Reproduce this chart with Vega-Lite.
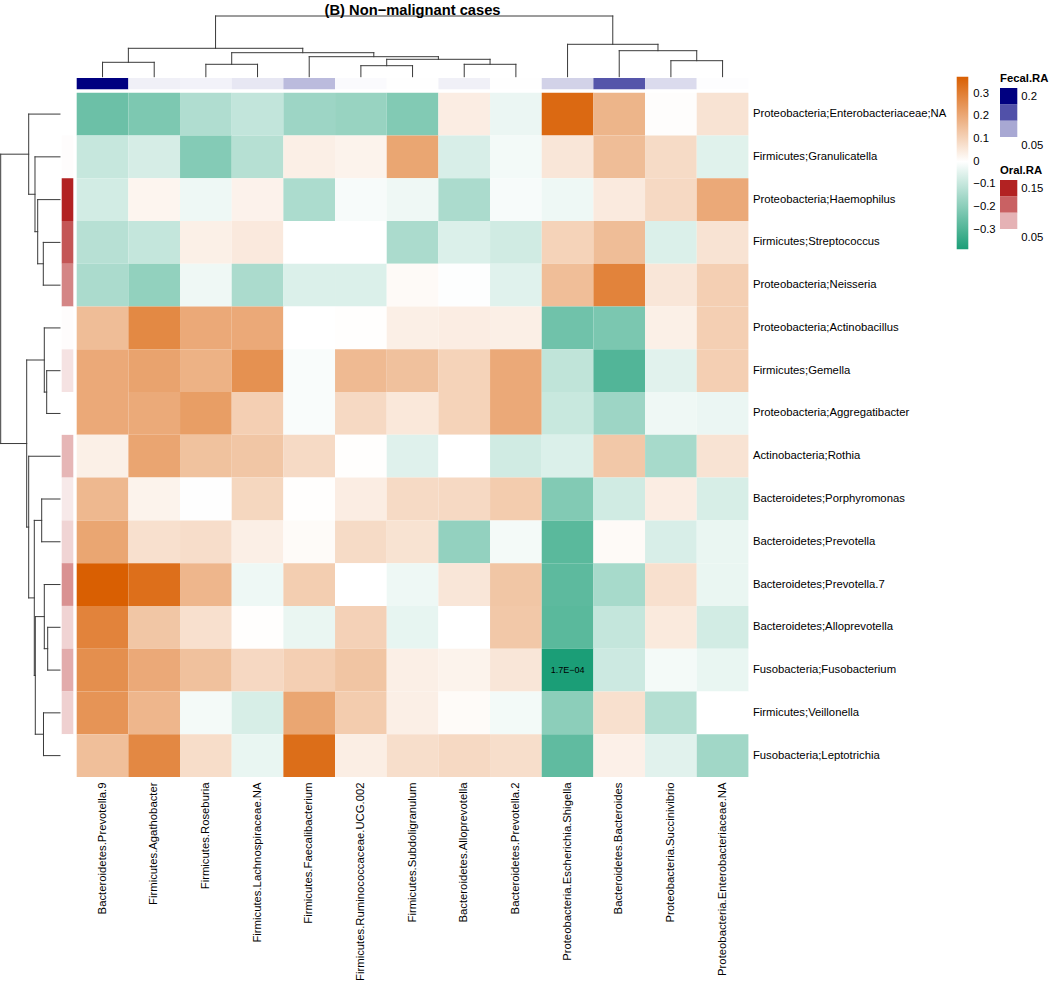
{
 "$schema": "https://vega.github.io/schema/vega-lite/v6.json",
 "autosize": {"type": "none"},
 "width": 671.7,
 "height": 684.3,
 "padding": {"left": 76.7, "top": 92.7, "right": 301.6, "bottom": 205},
 "background": "white",
 "config": {
  "font": "Liberation Sans",
  "view": {"stroke": null},
  "axis": {"labelFont": "Liberation Sans", "labelFontSize": 11.3, "labelColor": "#000000"},
  "legend": {"labelFont": "Liberation Sans", "titleFont": "Liberation Sans", "labelFontSize": 11.3, "labelColor": "#000000", "titleFontSize": 11.3, "titleColor": "#000000", "titleFontWeight": "bold"}
 },
 "title": {"text": "(B) Non\u2212malignant cases", "frame": "group", "anchor": "middle", "fontSize": 14.7, "fontWeight": "bold", "color": "#000000", "font": "Liberation Sans", "offset": -2},
 "datasets": {
  "cells": [
   {"row": "Proteobacteria;Enterobacteriaceae;NA", "col": "Bacteroidetes.Prevotella.9", "r": -0.249},
   {"row": "Proteobacteria;Enterobacteriaceae;NA", "col": "Firmicutes.Agathobacter", "r": -0.22},
   {"row": "Proteobacteria;Enterobacteriaceae;NA", "col": "Firmicutes.Roseburia", "r": -0.134},
   {"row": "Proteobacteria;Enterobacteriaceae;NA", "col": "Firmicutes.Lachnospiraceae.NA", "r": -0.103},
   {"row": "Proteobacteria;Enterobacteriaceae;NA", "col": "Firmicutes.Faecalibacterium", "r": -0.166},
   {"row": "Proteobacteria;Enterobacteriaceae;NA", "col": "Firmicutes.Ruminococcaceae.UCG.002", "r": -0.175},
   {"row": "Proteobacteria;Enterobacteriaceae;NA", "col": "Firmicutes.Subdoligranulum", "r": -0.212},
   {"row": "Proteobacteria;Enterobacteriaceae;NA", "col": "Bacteroidetes.Alloprevotella", "r": 0.042},
   {"row": "Proteobacteria;Enterobacteriaceae;NA", "col": "Bacteroidetes.Prevotella.2", "r": -0.034},
   {"row": "Proteobacteria;Enterobacteriaceae;NA", "col": "Proteobacteria.Escherichia.Shigella", "r": 0.35},
   {"row": "Proteobacteria;Enterobacteriaceae;NA", "col": "Bacteroidetes.Bacteroides", "r": 0.173},
   {"row": "Proteobacteria;Enterobacteriaceae;NA", "col": "Proteobacteria.Succinivibrio", "r": 0.005},
   {"row": "Proteobacteria;Enterobacteriaceae;NA", "col": "Proteobacteria.Enterobacteriaceae.NA", "r": 0.065},

   {"row": "Firmicutes;Granulicatella", "col": "Bacteroidetes.Prevotella.9", "r": -0.097},
   {"row": "Firmicutes;Granulicatella", "col": "Firmicutes.Agathobacter", "r": -0.07},
   {"row": "Firmicutes;Granulicatella", "col": "Firmicutes.Roseburia", "r": -0.208},
   {"row": "Firmicutes;Granulicatella", "col": "Firmicutes.Lachnospiraceae.NA", "r": -0.124},
   {"row": "Firmicutes;Granulicatella", "col": "Firmicutes.Faecalibacterium", "r": 0.037},
   {"row": "Firmicutes;Granulicatella", "col": "Firmicutes.Ruminococcaceae.UCG.002", "r": 0.028},
   {"row": "Firmicutes;Granulicatella", "col": "Firmicutes.Subdoligranulum", "r": 0.208},
   {"row": "Firmicutes;Granulicatella", "col": "Bacteroidetes.Alloprevotella", "r": -0.066},
   {"row": "Firmicutes;Granulicatella", "col": "Bacteroidetes.Prevotella.2", "r": -0.02},
   {"row": "Firmicutes;Granulicatella", "col": "Proteobacteria.Escherichia.Shigella", "r": 0.058},
   {"row": "Firmicutes;Granulicatella", "col": "Bacteroidetes.Bacteroides", "r": 0.154},
   {"row": "Firmicutes;Granulicatella", "col": "Proteobacteria.Succinivibrio", "r": 0.084},
   {"row": "Firmicutes;Granulicatella", "col": "Proteobacteria.Enterobacteriaceae.NA", "r": -0.053},

   {"row": "Proteobacteria;Haemophilus", "col": "Bacteroidetes.Prevotella.9", "r": -0.076},
   {"row": "Proteobacteria;Haemophilus", "col": "Firmicutes.Agathobacter", "r": 0.023},
   {"row": "Proteobacteria;Haemophilus", "col": "Firmicutes.Roseburia", "r": -0.029},
   {"row": "Proteobacteria;Haemophilus", "col": "Firmicutes.Lachnospiraceae.NA", "r": 0.03},
   {"row": "Proteobacteria;Haemophilus", "col": "Firmicutes.Faecalibacterium", "r": -0.14},
   {"row": "Proteobacteria;Haemophilus", "col": "Firmicutes.Ruminococcaceae.UCG.002", "r": -0.014},
   {"row": "Proteobacteria;Haemophilus", "col": "Firmicutes.Subdoligranulum", "r": -0.027},
   {"row": "Proteobacteria;Haemophilus", "col": "Bacteroidetes.Alloprevotella", "r": -0.142},
   {"row": "Proteobacteria;Haemophilus", "col": "Bacteroidetes.Prevotella.2", "r": -0.014},
   {"row": "Proteobacteria;Haemophilus", "col": "Proteobacteria.Escherichia.Shigella", "r": -0.029},
   {"row": "Proteobacteria;Haemophilus", "col": "Bacteroidetes.Bacteroides", "r": 0.049},
   {"row": "Proteobacteria;Haemophilus", "col": "Proteobacteria.Succinivibrio", "r": 0.089},
   {"row": "Proteobacteria;Haemophilus", "col": "Proteobacteria.Enterobacteriaceae.NA", "r": 0.2},

   {"row": "Firmicutes;Streptococcus", "col": "Bacteroidetes.Prevotella.9", "r": -0.122},
   {"row": "Firmicutes;Streptococcus", "col": "Firmicutes.Agathobacter", "r": -0.1},
   {"row": "Firmicutes;Streptococcus", "col": "Firmicutes.Roseburia", "r": 0.035},
   {"row": "Firmicutes;Streptococcus", "col": "Firmicutes.Lachnospiraceae.NA", "r": 0.051},
   {"row": "Firmicutes;Streptococcus", "col": "Firmicutes.Faecalibacterium", "r": 0.0},
   {"row": "Firmicutes;Streptococcus", "col": "Firmicutes.Ruminococcaceae.UCG.002", "r": 0.0},
   {"row": "Firmicutes;Streptococcus", "col": "Firmicutes.Subdoligranulum", "r": -0.142},
   {"row": "Firmicutes;Streptococcus", "col": "Bacteroidetes.Alloprevotella", "r": -0.061},
   {"row": "Firmicutes;Streptococcus", "col": "Bacteroidetes.Prevotella.2", "r": -0.08},
   {"row": "Firmicutes;Streptococcus", "col": "Proteobacteria.Escherichia.Shigella", "r": 0.103},
   {"row": "Firmicutes;Streptococcus", "col": "Bacteroidetes.Bacteroides", "r": 0.154},
   {"row": "Firmicutes;Streptococcus", "col": "Proteobacteria.Succinivibrio", "r": -0.061},
   {"row": "Firmicutes;Streptococcus", "col": "Proteobacteria.Enterobacteriaceae.NA", "r": 0.065},

   {"row": "Proteobacteria;Neisseria", "col": "Bacteroidetes.Prevotella.9", "r": -0.143},
   {"row": "Proteobacteria;Neisseria", "col": "Firmicutes.Agathobacter", "r": -0.185},
   {"row": "Proteobacteria;Neisseria", "col": "Firmicutes.Roseburia", "r": -0.027},
   {"row": "Proteobacteria;Neisseria", "col": "Firmicutes.Lachnospiraceae.NA", "r": -0.142},
   {"row": "Proteobacteria;Neisseria", "col": "Firmicutes.Faecalibacterium", "r": -0.061},
   {"row": "Proteobacteria;Neisseria", "col": "Firmicutes.Ruminococcaceae.UCG.002", "r": -0.061},
   {"row": "Proteobacteria;Neisseria", "col": "Firmicutes.Subdoligranulum", "r": 0.012},
   {"row": "Proteobacteria;Neisseria", "col": "Bacteroidetes.Alloprevotella", "r": -0.003},
   {"row": "Proteobacteria;Neisseria", "col": "Bacteroidetes.Prevotella.2", "r": -0.052},
   {"row": "Proteobacteria;Neisseria", "col": "Proteobacteria.Escherichia.Shigella", "r": 0.152},
   {"row": "Proteobacteria;Neisseria", "col": "Bacteroidetes.Bacteroides", "r": 0.29},
   {"row": "Proteobacteria;Neisseria", "col": "Proteobacteria.Succinivibrio", "r": 0.058},
   {"row": "Proteobacteria;Neisseria", "col": "Proteobacteria.Enterobacteriaceae.NA", "r": 0.112},

   {"row": "Proteobacteria;Actinobacillus", "col": "Bacteroidetes.Prevotella.9", "r": 0.154},
   {"row": "Proteobacteria;Actinobacillus", "col": "Firmicutes.Agathobacter", "r": 0.276},
   {"row": "Proteobacteria;Actinobacillus", "col": "Firmicutes.Roseburia", "r": 0.2},
   {"row": "Proteobacteria;Actinobacillus", "col": "Firmicutes.Lachnospiraceae.NA", "r": 0.2},
   {"row": "Proteobacteria;Actinobacillus", "col": "Firmicutes.Faecalibacterium", "r": 0.0},
   {"row": "Proteobacteria;Actinobacillus", "col": "Firmicutes.Ruminococcaceae.UCG.002", "r": 0.003},
   {"row": "Proteobacteria;Actinobacillus", "col": "Firmicutes.Subdoligranulum", "r": 0.037},
   {"row": "Proteobacteria;Actinobacillus", "col": "Bacteroidetes.Alloprevotella", "r": 0.042},
   {"row": "Proteobacteria;Actinobacillus", "col": "Bacteroidetes.Prevotella.2", "r": 0.037},
   {"row": "Proteobacteria;Actinobacillus", "col": "Proteobacteria.Escherichia.Shigella", "r": -0.242},
   {"row": "Proteobacteria;Actinobacillus", "col": "Bacteroidetes.Bacteroides", "r": -0.224},
   {"row": "Proteobacteria;Actinobacillus", "col": "Proteobacteria.Succinivibrio", "r": 0.035},
   {"row": "Proteobacteria;Actinobacillus", "col": "Proteobacteria.Enterobacteriaceae.NA", "r": 0.112},

   {"row": "Firmicutes;Gemella", "col": "Bacteroidetes.Prevotella.9", "r": 0.2},
   {"row": "Firmicutes;Gemella", "col": "Firmicutes.Agathobacter", "r": 0.215},
   {"row": "Firmicutes;Gemella", "col": "Firmicutes.Roseburia", "r": 0.18},
   {"row": "Firmicutes;Gemella", "col": "Firmicutes.Lachnospiraceae.NA", "r": 0.257},
   {"row": "Firmicutes;Gemella", "col": "Firmicutes.Faecalibacterium", "r": -0.01},
   {"row": "Firmicutes;Gemella", "col": "Firmicutes.Ruminococcaceae.UCG.002", "r": 0.161},
   {"row": "Firmicutes;Gemella", "col": "Firmicutes.Subdoligranulum", "r": 0.145},
   {"row": "Firmicutes;Gemella", "col": "Bacteroidetes.Alloprevotella", "r": 0.103},
   {"row": "Firmicutes;Gemella", "col": "Bacteroidetes.Prevotella.2", "r": 0.2},
   {"row": "Firmicutes;Gemella", "col": "Proteobacteria.Escherichia.Shigella", "r": -0.107},
   {"row": "Firmicutes;Gemella", "col": "Bacteroidetes.Bacteroides", "r": -0.293},
   {"row": "Firmicutes;Gemella", "col": "Proteobacteria.Succinivibrio", "r": -0.05},
   {"row": "Firmicutes;Gemella", "col": "Proteobacteria.Enterobacteriaceae.NA", "r": 0.112},

   {"row": "Proteobacteria;Aggregatibacter", "col": "Bacteroidetes.Prevotella.9", "r": 0.2},
   {"row": "Proteobacteria;Aggregatibacter", "col": "Firmicutes.Agathobacter", "r": 0.198},
   {"row": "Proteobacteria;Aggregatibacter", "col": "Firmicutes.Roseburia", "r": 0.227},
   {"row": "Proteobacteria;Aggregatibacter", "col": "Firmicutes.Lachnospiraceae.NA", "r": 0.112},
   {"row": "Proteobacteria;Aggregatibacter", "col": "Firmicutes.Faecalibacterium", "r": -0.01},
   {"row": "Proteobacteria;Aggregatibacter", "col": "Firmicutes.Ruminococcaceae.UCG.002", "r": 0.088},
   {"row": "Proteobacteria;Aggregatibacter", "col": "Firmicutes.Subdoligranulum", "r": 0.054},
   {"row": "Proteobacteria;Aggregatibacter", "col": "Bacteroidetes.Alloprevotella", "r": 0.103},
   {"row": "Proteobacteria;Aggregatibacter", "col": "Bacteroidetes.Prevotella.2", "r": 0.2},
   {"row": "Proteobacteria;Aggregatibacter", "col": "Proteobacteria.Escherichia.Shigella", "r": -0.093},
   {"row": "Proteobacteria;Aggregatibacter", "col": "Bacteroidetes.Bacteroides", "r": -0.166},
   {"row": "Proteobacteria;Aggregatibacter", "col": "Proteobacteria.Succinivibrio", "r": -0.027},
   {"row": "Proteobacteria;Aggregatibacter", "col": "Proteobacteria.Enterobacteriaceae.NA", "r": -0.034},

   {"row": "Actinobacteria;Rothia", "col": "Bacteroidetes.Prevotella.9", "r": 0.035},
   {"row": "Actinobacteria;Rothia", "col": "Firmicutes.Agathobacter", "r": 0.21},
   {"row": "Actinobacteria;Rothia", "col": "Firmicutes.Roseburia", "r": 0.143},
   {"row": "Actinobacteria;Rothia", "col": "Firmicutes.Lachnospiraceae.NA", "r": 0.133},
   {"row": "Actinobacteria;Rothia", "col": "Firmicutes.Faecalibacterium", "r": 0.086},
   {"row": "Actinobacteria;Rothia", "col": "Firmicutes.Ruminococcaceae.UCG.002", "r": 0.003},
   {"row": "Actinobacteria;Rothia", "col": "Firmicutes.Subdoligranulum", "r": -0.055},
   {"row": "Actinobacteria;Rothia", "col": "Bacteroidetes.Alloprevotella", "r": 0.0},
   {"row": "Actinobacteria;Rothia", "col": "Bacteroidetes.Prevotella.2", "r": -0.08},
   {"row": "Actinobacteria;Rothia", "col": "Proteobacteria.Escherichia.Shigella", "r": -0.061},
   {"row": "Actinobacteria;Rothia", "col": "Bacteroidetes.Bacteroides", "r": 0.129},
   {"row": "Actinobacteria;Rothia", "col": "Proteobacteria.Succinivibrio", "r": -0.149},
   {"row": "Actinobacteria;Rothia", "col": "Proteobacteria.Enterobacteriaceae.NA", "r": 0.065},

   {"row": "Bacteroidetes;Porphyromonas", "col": "Bacteroidetes.Prevotella.9", "r": 0.166},
   {"row": "Bacteroidetes;Porphyromonas", "col": "Firmicutes.Agathobacter", "r": 0.028},
   {"row": "Bacteroidetes;Porphyromonas", "col": "Firmicutes.Roseburia", "r": -0.002},
   {"row": "Bacteroidetes;Porphyromonas", "col": "Firmicutes.Lachnospiraceae.NA", "r": 0.094},
   {"row": "Bacteroidetes;Porphyromonas", "col": "Firmicutes.Faecalibacterium", "r": 0.003},
   {"row": "Bacteroidetes;Porphyromonas", "col": "Firmicutes.Ruminococcaceae.UCG.002", "r": 0.042},
   {"row": "Bacteroidetes;Porphyromonas", "col": "Firmicutes.Subdoligranulum", "r": 0.086},
   {"row": "Bacteroidetes;Porphyromonas", "col": "Bacteroidetes.Alloprevotella", "r": 0.088},
   {"row": "Bacteroidetes;Porphyromonas", "col": "Bacteroidetes.Prevotella.2", "r": 0.12},
   {"row": "Bacteroidetes;Porphyromonas", "col": "Proteobacteria.Escherichia.Shigella", "r": -0.212},
   {"row": "Bacteroidetes;Porphyromonas", "col": "Bacteroidetes.Bacteroides", "r": -0.08},
   {"row": "Bacteroidetes;Porphyromonas", "col": "Proteobacteria.Succinivibrio", "r": 0.042},
   {"row": "Bacteroidetes;Porphyromonas", "col": "Proteobacteria.Enterobacteriaceae.NA", "r": -0.068},

   {"row": "Bacteroidetes;Prevotella", "col": "Bacteroidetes.Prevotella.9", "r": 0.208},
   {"row": "Bacteroidetes;Prevotella", "col": "Firmicutes.Agathobacter", "r": 0.072},
   {"row": "Bacteroidetes;Prevotella", "col": "Firmicutes.Roseburia", "r": 0.079},
   {"row": "Bacteroidetes;Prevotella", "col": "Firmicutes.Lachnospiraceae.NA", "r": 0.037},
   {"row": "Bacteroidetes;Prevotella", "col": "Firmicutes.Faecalibacterium", "r": 0.01},
   {"row": "Bacteroidetes;Prevotella", "col": "Firmicutes.Ruminococcaceae.UCG.002", "r": 0.084},
   {"row": "Bacteroidetes;Prevotella", "col": "Firmicutes.Subdoligranulum", "r": 0.066},
   {"row": "Bacteroidetes;Prevotella", "col": "Bacteroidetes.Alloprevotella", "r": -0.183},
   {"row": "Bacteroidetes;Prevotella", "col": "Bacteroidetes.Prevotella.2", "r": -0.019},
   {"row": "Bacteroidetes;Prevotella", "col": "Proteobacteria.Escherichia.Shigella", "r": -0.28},
   {"row": "Bacteroidetes;Prevotella", "col": "Bacteroidetes.Bacteroides", "r": 0.012},
   {"row": "Bacteroidetes;Prevotella", "col": "Proteobacteria.Succinivibrio", "r": -0.066},
   {"row": "Bacteroidetes;Prevotella", "col": "Proteobacteria.Enterobacteriaceae.NA", "r": -0.036},

   {"row": "Bacteroidetes;Prevotella.7", "col": "Bacteroidetes.Prevotella.9", "r": 0.374},
   {"row": "Bacteroidetes;Prevotella.7", "col": "Firmicutes.Agathobacter", "r": 0.337},
   {"row": "Bacteroidetes;Prevotella.7", "col": "Firmicutes.Roseburia", "r": 0.17},
   {"row": "Bacteroidetes;Prevotella.7", "col": "Firmicutes.Lachnospiraceae.NA", "r": -0.029},
   {"row": "Bacteroidetes;Prevotella.7", "col": "Firmicutes.Faecalibacterium", "r": 0.115},
   {"row": "Bacteroidetes;Prevotella.7", "col": "Firmicutes.Ruminococcaceae.UCG.002", "r": 0.0},
   {"row": "Bacteroidetes;Prevotella.7", "col": "Firmicutes.Subdoligranulum", "r": -0.029},
   {"row": "Bacteroidetes;Prevotella.7", "col": "Bacteroidetes.Alloprevotella", "r": 0.058},
   {"row": "Bacteroidetes;Prevotella.7", "col": "Bacteroidetes.Prevotella.2", "r": 0.133},
   {"row": "Bacteroidetes;Prevotella.7", "col": "Proteobacteria.Escherichia.Shigella", "r": -0.274},
   {"row": "Bacteroidetes;Prevotella.7", "col": "Bacteroidetes.Bacteroides", "r": -0.149},
   {"row": "Bacteroidetes;Prevotella.7", "col": "Proteobacteria.Succinivibrio", "r": 0.072},
   {"row": "Bacteroidetes;Prevotella.7", "col": "Proteobacteria.Enterobacteriaceae.NA", "r": -0.036},

   {"row": "Bacteroidetes;Alloprevotella", "col": "Bacteroidetes.Prevotella.9", "r": 0.29},
   {"row": "Bacteroidetes;Alloprevotella", "col": "Firmicutes.Agathobacter", "r": 0.133},
   {"row": "Bacteroidetes;Alloprevotella", "col": "Firmicutes.Roseburia", "r": 0.072},
   {"row": "Bacteroidetes;Alloprevotella", "col": "Firmicutes.Lachnospiraceae.NA", "r": 0.003},
   {"row": "Bacteroidetes;Alloprevotella", "col": "Firmicutes.Faecalibacterium", "r": -0.036},
   {"row": "Bacteroidetes;Alloprevotella", "col": "Firmicutes.Ruminococcaceae.UCG.002", "r": 0.107},
   {"row": "Bacteroidetes;Alloprevotella", "col": "Firmicutes.Subdoligranulum", "r": -0.04},
   {"row": "Bacteroidetes;Alloprevotella", "col": "Bacteroidetes.Alloprevotella", "r": 0.0},
   {"row": "Bacteroidetes;Alloprevotella", "col": "Bacteroidetes.Prevotella.2", "r": 0.129},
   {"row": "Bacteroidetes;Alloprevotella", "col": "Proteobacteria.Escherichia.Shigella", "r": -0.28},
   {"row": "Bacteroidetes;Alloprevotella", "col": "Bacteroidetes.Bacteroides", "r": -0.1},
   {"row": "Bacteroidetes;Alloprevotella", "col": "Proteobacteria.Succinivibrio", "r": 0.05},
   {"row": "Bacteroidetes;Alloprevotella", "col": "Proteobacteria.Enterobacteriaceae.NA", "r": -0.076},

   {"row": "Fusobacteria;Fusobacterium", "col": "Bacteroidetes.Prevotella.9", "r": 0.262},
   {"row": "Fusobacteria;Fusobacterium", "col": "Firmicutes.Agathobacter", "r": 0.2},
   {"row": "Fusobacteria;Fusobacterium", "col": "Firmicutes.Roseburia", "r": 0.145},
   {"row": "Fusobacteria;Fusobacterium", "col": "Firmicutes.Lachnospiraceae.NA", "r": 0.09},
   {"row": "Fusobacteria;Fusobacterium", "col": "Firmicutes.Faecalibacterium", "r": 0.112},
   {"row": "Fusobacteria;Fusobacterium", "col": "Firmicutes.Ruminococcaceae.UCG.002", "r": 0.136},
   {"row": "Fusobacteria;Fusobacterium", "col": "Firmicutes.Subdoligranulum", "r": 0.037},
   {"row": "Fusobacteria;Fusobacterium", "col": "Bacteroidetes.Alloprevotella", "r": 0.028},
   {"row": "Fusobacteria;Fusobacterium", "col": "Bacteroidetes.Prevotella.2", "r": 0.058},
   {"row": "Fusobacteria;Fusobacterium", "col": "Proteobacteria.Escherichia.Shigella", "r": -0.386},
   {"row": "Fusobacteria;Fusobacterium", "col": "Bacteroidetes.Bacteroides", "r": -0.086},
   {"row": "Fusobacteria;Fusobacterium", "col": "Proteobacteria.Succinivibrio", "r": -0.019},
   {"row": "Fusobacteria;Fusobacterium", "col": "Proteobacteria.Enterobacteriaceae.NA", "r": -0.037},

   {"row": "Firmicutes;Veillonella", "col": "Bacteroidetes.Prevotella.9", "r": 0.25},
   {"row": "Firmicutes;Veillonella", "col": "Firmicutes.Agathobacter", "r": 0.17},
   {"row": "Firmicutes;Veillonella", "col": "Firmicutes.Roseburia", "r": -0.019},
   {"row": "Firmicutes;Veillonella", "col": "Firmicutes.Lachnospiraceae.NA", "r": -0.068},
   {"row": "Firmicutes;Veillonella", "col": "Firmicutes.Faecalibacterium", "r": 0.208},
   {"row": "Firmicutes;Veillonella", "col": "Firmicutes.Ruminococcaceae.UCG.002", "r": 0.12},
   {"row": "Firmicutes;Veillonella", "col": "Firmicutes.Subdoligranulum", "r": 0.037},
   {"row": "Firmicutes;Veillonella", "col": "Bacteroidetes.Alloprevotella", "r": 0.01},
   {"row": "Firmicutes;Veillonella", "col": "Bacteroidetes.Prevotella.2", "r": -0.02},
   {"row": "Firmicutes;Veillonella", "col": "Proteobacteria.Escherichia.Shigella", "r": -0.195},
   {"row": "Firmicutes;Veillonella", "col": "Bacteroidetes.Bacteroides", "r": 0.072},
   {"row": "Firmicutes;Veillonella", "col": "Proteobacteria.Succinivibrio", "r": -0.127},
   {"row": "Firmicutes;Veillonella", "col": "Proteobacteria.Enterobacteriaceae.NA", "r": 0.0},

   {"row": "Fusobacteria;Leptotrichia", "col": "Bacteroidetes.Prevotella.9", "r": 0.15},
   {"row": "Fusobacteria;Leptotrichia", "col": "Firmicutes.Agathobacter", "r": 0.278},
   {"row": "Fusobacteria;Leptotrichia", "col": "Firmicutes.Roseburia", "r": 0.08},
   {"row": "Fusobacteria;Leptotrichia", "col": "Firmicutes.Lachnospiraceae.NA", "r": -0.037},
   {"row": "Fusobacteria;Leptotrichia", "col": "Firmicutes.Faecalibacterium", "r": 0.34},
   {"row": "Fusobacteria;Leptotrichia", "col": "Firmicutes.Ruminococcaceae.UCG.002", "r": 0.04},
   {"row": "Fusobacteria;Leptotrichia", "col": "Firmicutes.Subdoligranulum", "r": 0.077},
   {"row": "Fusobacteria;Leptotrichia", "col": "Bacteroidetes.Alloprevotella", "r": 0.088},
   {"row": "Fusobacteria;Leptotrichia", "col": "Bacteroidetes.Prevotella.2", "r": 0.077},
   {"row": "Fusobacteria;Leptotrichia", "col": "Proteobacteria.Escherichia.Shigella", "r": -0.27},
   {"row": "Fusobacteria;Leptotrichia", "col": "Bacteroidetes.Bacteroides", "r": 0.034},
   {"row": "Fusobacteria;Leptotrichia", "col": "Proteobacteria.Succinivibrio", "r": -0.05},
   {"row": "Fusobacteria;Leptotrichia", "col": "Proteobacteria.Enterobacteriaceae.NA", "r": -0.159}
  ],
  "pval": [
   {"row": "Fusobacteria;Fusobacterium", "col": "Proteobacteria.Escherichia.Shigella", "label": "1.7E\u221204"}
  ],
  "fecal": [
   {"col": "Bacteroidetes.Prevotella.9", "fecal": 0.22},
   {"col": "Firmicutes.Agathobacter", "fecal": 0.013},
   {"col": "Firmicutes.Roseburia", "fecal": 0.011},
   {"col": "Firmicutes.Lachnospiraceae.NA", "fecal": 0.021},
   {"col": "Firmicutes.Faecalibacterium", "fecal": 0.059},
   {"col": "Firmicutes.Ruminococcaceae.UCG.002", "fecal": 0.004},
   {"col": "Firmicutes.Subdoligranulum", "fecal": 0.001},
   {"col": "Bacteroidetes.Alloprevotella", "fecal": 0.013},
   {"col": "Bacteroidetes.Prevotella.2", "fecal": 0.001},
   {"col": "Proteobacteria.Escherichia.Shigella", "fecal": 0.039},
   {"col": "Bacteroidetes.Bacteroides", "fecal": 0.147},
   {"col": "Proteobacteria.Succinivibrio", "fecal": 0.031},
   {"col": "Proteobacteria.Enterobacteriaceae.NA", "fecal": 0.002}
  ],
  "oral": [
   {"row": "Proteobacteria;Enterobacteriaceae;NA", "oral": 0.0},
   {"row": "Firmicutes;Granulicatella", "oral": 0.002},
   {"row": "Proteobacteria;Haemophilus", "oral": 0.17},
   {"row": "Firmicutes;Streptococcus", "oral": 0.13},
   {"row": "Proteobacteria;Neisseria", "oral": 0.094},
   {"row": "Proteobacteria;Actinobacillus", "oral": 0.002},
   {"row": "Firmicutes;Gemella", "oral": 0.022},
   {"row": "Proteobacteria;Aggregatibacter", "oral": 0.0},
   {"row": "Actinobacteria;Rothia", "oral": 0.056},
   {"row": "Bacteroidetes;Porphyromonas", "oral": 0.017},
   {"row": "Bacteroidetes;Prevotella", "oral": 0.033},
   {"row": "Bacteroidetes;Prevotella.7", "oral": 0.085},
   {"row": "Bacteroidetes;Alloprevotella", "oral": 0.034},
   {"row": "Fusobacteria;Fusobacterium", "oral": 0.065},
   {"row": "Firmicutes;Veillonella", "oral": 0.036},
   {"row": "Fusobacteria;Leptotrichia", "oral": 0.0}
  ],
  "rowTree": [
   {"h": 16.7, "h2": 16.7, "pos": 4, "pos2": 5}, {"h": 0, "h2": 16.7, "pos": 4, "pos2": 4}, {"h": 0, "h2": 16.7, "pos": 5, "pos2": 5},
   {"h": 22.3, "h2": 22.3, "pos": 3, "pos2": 4.5}, {"h": 0, "h2": 22.3, "pos": 3, "pos2": 3}, {"h": 16.7, "h2": 22.3, "pos": 4.5, "pos2": 4.5},
   {"h": 25, "h2": 25, "pos": 2, "pos2": 3.75}, {"h": 0, "h2": 25, "pos": 2, "pos2": 2}, {"h": 22.3, "h2": 25, "pos": 3.75, "pos2": 3.75},
   {"h": 31.3, "h2": 31.3, "pos": 1, "pos2": 2.875}, {"h": 0, "h2": 31.3, "pos": 1, "pos2": 1}, {"h": 25, "h2": 31.3, "pos": 2.875, "pos2": 2.875},
   {"h": 13.3, "h2": 13.3, "pos": 7, "pos2": 8}, {"h": 0, "h2": 13.3, "pos": 7, "pos2": 7}, {"h": 0, "h2": 13.3, "pos": 8, "pos2": 8},
   {"h": 15.7, "h2": 15.7, "pos": 6, "pos2": 7.5}, {"h": 0, "h2": 15.7, "pos": 6, "pos2": 6}, {"h": 13.3, "h2": 15.7, "pos": 7.5, "pos2": 7.5},
   {"h": 18.3, "h2": 18.3, "pos": 10, "pos2": 11}, {"h": 0, "h2": 18.3, "pos": 10, "pos2": 10}, {"h": 0, "h2": 18.3, "pos": 11, "pos2": 11},
   {"h": 12.3, "h2": 12.3, "pos": 13, "pos2": 14}, {"h": 0, "h2": 12.3, "pos": 13, "pos2": 13}, {"h": 0, "h2": 12.3, "pos": 14, "pos2": 14},
   {"h": 15.7, "h2": 15.7, "pos": 12, "pos2": 13.5}, {"h": 0, "h2": 15.7, "pos": 12, "pos2": 12}, {"h": 12.3, "h2": 15.7, "pos": 13.5, "pos2": 13.5},
   {"h": 16.5, "h2": 16.5, "pos": 15, "pos2": 16}, {"h": 0, "h2": 16.5, "pos": 15, "pos2": 15}, {"h": 0, "h2": 16.5, "pos": 16, "pos2": 16},
   {"h": 24.7, "h2": 24.7, "pos": 12.75, "pos2": 15.5}, {"h": 15.7, "h2": 24.7, "pos": 12.75, "pos2": 12.75}, {"h": 16.5, "h2": 24.7, "pos": 15.5, "pos2": 15.5},
   {"h": 25.7, "h2": 25.7, "pos": 10.5, "pos2": 14.125}, {"h": 18.3, "h2": 25.7, "pos": 10.5, "pos2": 10.5}, {"h": 24.7, "h2": 25.7, "pos": 14.125, "pos2": 14.125},
   {"h": 31.3, "h2": 31.3, "pos": 9, "pos2": 12.3125}, {"h": 0, "h2": 31.3, "pos": 9, "pos2": 9}, {"h": 25.7, "h2": 31.3, "pos": 12.3125, "pos2": 12.3125},
   {"h": 33.3, "h2": 33.3, "pos": 6.75, "pos2": 10.65625}, {"h": 15.7, "h2": 33.3, "pos": 6.75, "pos2": 6.75}, {"h": 31.3, "h2": 33.3, "pos": 10.65625, "pos2": 10.65625},
   {"h": 59.3, "h2": 59.3, "pos": 1.9375, "pos2": 8.703125}, {"h": 31.3, "h2": 59.3, "pos": 1.9375, "pos2": 1.9375}, {"h": 33.3, "h2": 59.3, "pos": 8.703125, "pos2": 8.703125}
  ],
  "colTree": [
   {"h": 14.4, "h2": 14.4, "pos": 1, "pos2": 2}, {"h": 0, "h2": 14.4, "pos": 1, "pos2": 1}, {"h": 0, "h2": 14.4, "pos": 2, "pos2": 2},
   {"h": 12.4, "h2": 12.4, "pos": 3, "pos2": 4}, {"h": 0, "h2": 12.4, "pos": 3, "pos2": 3}, {"h": 0, "h2": 12.4, "pos": 4, "pos2": 4},
   {"h": 11, "h2": 11, "pos": 6, "pos2": 7}, {"h": 0, "h2": 11, "pos": 6, "pos2": 6}, {"h": 0, "h2": 11, "pos": 7, "pos2": 7},
   {"h": 12.4, "h2": 12.4, "pos": 8, "pos2": 9}, {"h": 0, "h2": 12.4, "pos": 8, "pos2": 8}, {"h": 0, "h2": 12.4, "pos": 9, "pos2": 9},
   {"h": 17.4, "h2": 17.4, "pos": 6.5, "pos2": 8.5}, {"h": 11, "h2": 17.4, "pos": 6.5, "pos2": 6.5}, {"h": 12.4, "h2": 17.4, "pos": 8.5, "pos2": 8.5},
   {"h": 20, "h2": 20, "pos": 5, "pos2": 7.5}, {"h": 0, "h2": 20, "pos": 5, "pos2": 5}, {"h": 17.4, "h2": 20, "pos": 7.5, "pos2": 7.5},
   {"h": 24, "h2": 24, "pos": 3.5, "pos2": 6.25}, {"h": 12.4, "h2": 24, "pos": 3.5, "pos2": 3.5}, {"h": 20, "h2": 24, "pos": 6.25, "pos2": 6.25},
   {"h": 28.4, "h2": 28.4, "pos": 1.5, "pos2": 4.875}, {"h": 14.4, "h2": 28.4, "pos": 1.5, "pos2": 1.5}, {"h": 24, "h2": 28.4, "pos": 4.875, "pos2": 4.875},
   {"h": 16, "h2": 16, "pos": 12, "pos2": 13}, {"h": 0, "h2": 16, "pos": 12, "pos2": 12}, {"h": 0, "h2": 16, "pos": 13, "pos2": 13},
   {"h": 26, "h2": 26, "pos": 11, "pos2": 12.5}, {"h": 0, "h2": 26, "pos": 11, "pos2": 11}, {"h": 16, "h2": 26, "pos": 12.5, "pos2": 12.5},
   {"h": 32.4, "h2": 32.4, "pos": 10, "pos2": 11.75}, {"h": 0, "h2": 32.4, "pos": 10, "pos2": 10}, {"h": 26, "h2": 32.4, "pos": 11.75, "pos2": 11.75},
   {"h": 60.7, "h2": 60.7, "pos": 3.1875, "pos2": 10.875}, {"h": 28.4, "h2": 60.7, "pos": 3.1875, "pos2": 3.1875}, {"h": 32.4, "h2": 60.7, "pos": 10.875, "pos2": 10.875}
  ]
 },
 "layer": [
  {
   "layer": [
    {
     "data": {"name": "cells"},
     "mark": {"type": "rect"},
     "encoding": {
      "x": {"field": "col", "type": "nominal",
       "scale": {"domain": ["Bacteroidetes.Prevotella.9", "Firmicutes.Agathobacter", "Firmicutes.Roseburia", "Firmicutes.Lachnospiraceae.NA", "Firmicutes.Faecalibacterium", "Firmicutes.Ruminococcaceae.UCG.002", "Firmicutes.Subdoligranulum", "Bacteroidetes.Alloprevotella", "Bacteroidetes.Prevotella.2", "Proteobacteria.Escherichia.Shigella", "Bacteroidetes.Bacteroides", "Proteobacteria.Succinivibrio", "Proteobacteria.Enterobacteriaceae.NA"], "paddingInner": 0, "paddingOuter": 0},
       "axis": {"orient": "bottom", "labelAngle": -90, "labelPadding": 5, "ticks": false, "tickSize": 0, "domain": false, "grid": false, "title": null, "labelLimit": 400, "labelOverlap": false, "labelFontSize": 11.3, "labelColor": "#000000"}},
      "y": {"field": "row", "type": "nominal",
       "scale": {"domain": ["Proteobacteria;Enterobacteriaceae;NA", "Firmicutes;Granulicatella", "Proteobacteria;Haemophilus", "Firmicutes;Streptococcus", "Proteobacteria;Neisseria", "Proteobacteria;Actinobacillus", "Firmicutes;Gemella", "Proteobacteria;Aggregatibacter", "Actinobacteria;Rothia", "Bacteroidetes;Porphyromonas", "Bacteroidetes;Prevotella", "Bacteroidetes;Prevotella.7", "Bacteroidetes;Alloprevotella", "Fusobacteria;Fusobacterium", "Firmicutes;Veillonella", "Fusobacteria;Leptotrichia"], "paddingInner": 0, "paddingOuter": 0},
       "axis": {"orient": "right", "labelPadding": 4, "ticks": false, "tickSize": 0, "domain": false, "grid": false, "title": null, "labelLimit": 400, "labelOverlap": false, "labelFontSize": 11.3, "labelColor": "#000000"}},
      "color": {"field": "r", "type": "quantitative",
       "scale": {"domain": [-0.386, 0, 0.374], "range": ["#1B9E77", "#FFFFFF", "#D95F02"], "interpolate": "rgb"},
       "legend": {"orient": "none", "legendX": 880, "legendY": -16, "title": null, "direction": "vertical", "gradientLength": 172.6, "gradientThickness": 11.6, "gradientStrokeWidth": 0, "values": [-0.3, -0.2, -0.1, 0, 0.1, 0.2, 0.3], "format": ".1~f", "labelOffset": 5, "labelFontSize": 11.3}}
     }
    },
    {
     "data": {"name": "pval"},
     "mark": {"type": "text", "fontSize": 9, "color": "#000000", "font": "Liberation Sans"},
     "encoding": {
      "x": {"field": "col", "type": "nominal"},
      "y": {"field": "row", "type": "nominal"},
      "text": {"field": "label"}
     }
    }
   ]
  },
  {
   "data": {"name": "fecal"},
   "mark": {"type": "rect"},
   "encoding": {
    "x": {"field": "col", "type": "nominal", "scale": {"domain": ["Bacteroidetes.Prevotella.9", "Firmicutes.Agathobacter", "Firmicutes.Roseburia", "Firmicutes.Lachnospiraceae.NA", "Firmicutes.Faecalibacterium", "Firmicutes.Ruminococcaceae.UCG.002", "Firmicutes.Subdoligranulum", "Bacteroidetes.Alloprevotella", "Bacteroidetes.Prevotella.2", "Proteobacteria.Escherichia.Shigella", "Bacteroidetes.Bacteroides", "Proteobacteria.Succinivibrio", "Proteobacteria.Enterobacteriaceae.NA"], "paddingInner": 0, "paddingOuter": 0}, "axis": null},
    "y": {"datum": "Fecal.RA", "type": "nominal", "scale": {"range": [-14.7, -3.4], "paddingInner": 0, "paddingOuter": 0}, "axis": null},
    "color": {"field": "fecal", "type": "quantitative", "scale": {"domain": [0, 0.22], "range": ["#FFFFFF", "#000080"], "interpolate": "rgb"}, "legend": null}
   }
  },
  {
   "data": {"name": "oral"},
   "mark": {"type": "rect"},
   "encoding": {
    "y": {"field": "row", "type": "nominal", "scale": {"domain": ["Proteobacteria;Enterobacteriaceae;NA", "Firmicutes;Granulicatella", "Proteobacteria;Haemophilus", "Firmicutes;Streptococcus", "Proteobacteria;Neisseria", "Proteobacteria;Actinobacillus", "Firmicutes;Gemella", "Proteobacteria;Aggregatibacter", "Actinobacteria;Rothia", "Bacteroidetes;Porphyromonas", "Bacteroidetes;Prevotella", "Bacteroidetes;Prevotella.7", "Bacteroidetes;Alloprevotella", "Fusobacteria;Fusobacterium", "Firmicutes;Veillonella", "Fusobacteria;Leptotrichia"], "paddingInner": 0, "paddingOuter": 0}, "axis": null},
    "x": {"datum": "Oral.RA", "type": "nominal", "scale": {"range": [-15, -3.4], "paddingInner": 0, "paddingOuter": 0}, "axis": null},
    "color": {"field": "oral", "type": "quantitative", "scale": {"domain": [0, 0.17], "range": ["#FFFFFF", "#B22222"], "interpolate": "rgb"}, "legend": null}
   }
  },
  {
   "data": {"name": "colTree"},
   "mark": {"type": "rule", "color": "#3a3a3a", "strokeWidth": 1, "strokeCap": "square"},
   "encoding": {
    "x": {"field": "pos", "type": "quantitative", "scale": {"domain": [0.5, 13.5], "nice": false, "zero": false}, "axis": null},
    "x2": {"field": "pos2"},
    "y": {"field": "h", "type": "quantitative", "scale": {"domain": [0, 60.7], "range": [-16, -76.7], "nice": false, "zero": false}, "axis": null},
    "y2": {"field": "h2"}
   }
  },
  {
   "data": {"name": "rowTree"},
   "mark": {"type": "rule", "color": "#3a3a3a", "strokeWidth": 1, "strokeCap": "square"},
   "encoding": {
    "x": {"field": "h", "type": "quantitative", "scale": {"domain": [0, 60], "range": [-16.7, -76.7], "nice": false, "zero": false}, "axis": null},
    "x2": {"field": "h2"},
    "y": {"field": "pos", "type": "quantitative", "scale": {"domain": [0.5, 16.5], "reverse": true, "nice": false, "zero": false}, "axis": null},
    "y2": {"field": "pos2"}
   }
  },
  {
   "data": {"name": "fecal"},
   "mark": {"type": "rect", "opacity": 0},
   "encoding": {
    "color": {"field": "fecal", "type": "quantitative",
     "scale": {"type": "quantize", "domain": [0.05, 0.2], "range": ["#A8A8D3", "#5151A9", "#000080"]},
     "legend": {"type": "gradient", "orient": "none", "legendX": 923.3, "legendY": -20, "title": "Fecal.RA", "titlePadding": 4, "direction": "vertical", "gradientLength": 49, "gradientThickness": 17.3, "gradientStrokeWidth": 0, "labelOffset": 4, "labelOverlap": false, "values": [0.05, 0.1001, 0.1501, 0.2], "labelExpr": "datum.index == 0 || datum.index == 3 ? format(datum.value, '~g') : ''", "encode": {"labels": {"update": {"baseline": {"value": "top"}, "dy": {"value": 3}}}}}}
   }
  },
  {
   "data": {"name": "oral"},
   "mark": {"type": "rect", "opacity": 0},
   "encoding": {
    "color": {"field": "oral", "type": "quantitative",
     "scale": {"type": "quantize", "domain": [0.05, 0.15], "range": ["#E5B2B5", "#C96163", "#B22222"]},
     "legend": {"type": "gradient", "orient": "none", "legendX": 923.3, "legendY": 72, "title": "Oral.RA", "titlePadding": 4, "direction": "vertical", "gradientLength": 49, "gradientThickness": 17.3, "gradientStrokeWidth": 0, "labelOffset": 4, "labelOverlap": false, "values": [0.05, 0.0834, 0.1167, 0.15], "labelExpr": "datum.index == 0 || datum.index == 3 ? format(datum.value, '~g') : ''", "encode": {"labels": {"update": {"baseline": {"value": "top"}, "dy": {"value": 3}}}}}}
   }
  }
 ],
 "resolve": {"scale": {"x": "independent", "y": "independent", "color": "independent"}}
}
